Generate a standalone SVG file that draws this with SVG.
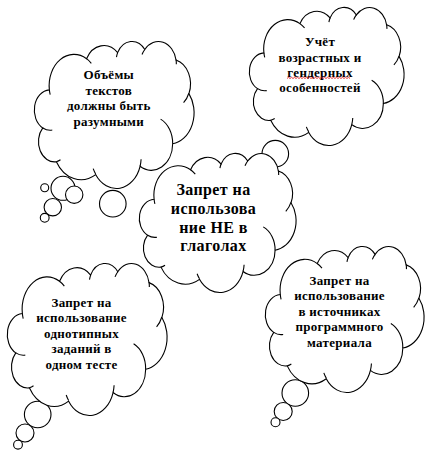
<svg xmlns="http://www.w3.org/2000/svg" xmlns:xlink="http://www.w3.org/1999/xlink" width="430" height="452" viewBox="0 0 430 452">
<style>
.c{fill:#fff;stroke:#000;stroke-width:1.1;vector-effect:non-scaling-stroke}
.i{fill:none;stroke:#000;stroke-width:1.1;vector-effect:non-scaling-stroke}
.b{fill:#fff;stroke:#000;stroke-width:1.1}
.t{font-family:"Liberation Serif","Times New Roman",serif;font-weight:bold;font-size:13px;fill:#000;text-anchor:middle;letter-spacing:0.3px}
.big{font-size:16px;letter-spacing:0.4px}
</style>
<defs>
<g id="cloud">
<path class="c" d="M9.03,33.26 A15.63,21.27 0 0 1 32.42,12.04 A12.34,16.82 0 0 1 51.98,7.94 A10.10,13.76 0 0 1 69.06,5.75 A11.24,15.27 0 0 1 88.70,12.92 A12.34,16.84 0 0 1 96.81,35.80 A15.68,21.34 0 0 1 86.59,69.92 A13.39,18.21 0 0 1 66.09,85.22 A15.63,21.33 0 0 1 38.14,90.89 A17.87,24.41 0 0 1 13.44,82.10 A10.09,13.70 0 0 1 4.89,59.14 A10.06,13.76 0 0 1 9.03,33.26 Z"/>
<path class="i" d="M10.86,60.59 A10.06,13.76 0 0 1 4.89,59.14 M16.04,80.78 A10.09,13.70 0 0 1 13.44,82.10 M38.14,90.49 A15.63,21.33 0 0 1 36.60,86.86 M66.73,80.44 A15.63,21.33 0 0 1 66.09,85.22 M79.00,53.13 A13.39,18.21 0 0 1 86.59,69.92 M96.75,35.54 A12.34,16.84 0 0 1 93.45,42.00 M88.71,12.56 A11.24,15.27 0 0 1 88.88,15.84 M67.31,9.15 A11.24,15.27 0 0 1 69.06,5.75 M51.25,10.93 A10.10,13.76 0 0 1 51.98,7.94 M32.41,12.02 A15.63,21.27 0 0 1 35.43,15.16 M9.55,36.55 A15.63,21.27 0 0 1 9.03,33.26"/>
</g>
</defs>
<g id="connectors">
<circle class="b" cx="63" cy="188.3" r="12"/>
<circle class="b" cx="74.2" cy="194.7" r="8.7"/>
<circle class="b" cx="44.7" cy="187.7" r="4"/>
<circle class="b" cx="52.8" cy="207.2" r="8.7"/>
<circle class="b" cx="44.7" cy="217.8" r="4.4"/>
<circle class="b" cx="112.8" cy="203.7" r="13.3"/>
<circle class="b" cx="275.3" cy="153.7" r="13.3"/>
<circle class="b" cx="37.7" cy="414.5" r="13.3"/>
<circle class="b" cx="25" cy="433" r="9"/>
<circle class="b" cx="18" cy="444.7" r="4.4"/>
<circle class="b" cx="295.3" cy="393" r="13.3"/>
<circle class="b" cx="283.2" cy="411.5" r="9"/>
<circle class="b" cx="275.5" cy="422.2" r="4.5"/>
</g>
<g id="n1">
<use xlink:href="#cloud" transform="translate(35,41) scale(1.59,1.47)"/>
<text class="t" x="108.8" y="79">Объёмы</text>
<text class="t" x="108.8" y="94.5">текстов</text>
<text class="t" x="108.8" y="110">должны быть</text>
<text class="t" x="108.8" y="125.5">разумными</text>
</g>
<g id="n2">
<use xlink:href="#cloud" transform="translate(250,7) scale(1.54,1.38)"/>
<text class="t" x="320" y="46">Учёт</text>
<text class="t" x="320" y="61.5">возрастных и</text>
<text class="t" x="320" y="76.5">гендерных</text>
<text class="t" x="320" y="91.5">особенностей</text>
<path d="M287,78.5 l1.5,-1.2 l1.5,1.2 l1.5,-1.2 l1.5,1.2 l1.5,-1.2 l1.5,1.2 l1.5,-1.2 l1.5,1.2 l1.5,-1.2 l1.5,1.2 l1.5,-1.2 l1.5,1.2 l1.5,-1.2 l1.5,1.2 l1.5,-1.2 l1.5,1.2 l1.5,-1.2 l1.5,1.2 l1.5,-1.2 l1.5,1.2 l1.5,-1.2 l1.5,1.2 l1.5,-1.2 l1.5,1.2 l1.5,-1.2 l1.5,1.2 l1.5,-1.2 l1.5,1.2 l1.5,-1.2 l1.5,1.2 l1.5,-1.2 l1.5,1.2 l1.5,-1.2 l1.5,1.2 l1.5,-1.2 l1.5,1.2 l1.5,-1.2 l1.5,1.2 l1.5,-1.2 l1.5,1.2 l1.5,-1.2 l1.5,1.2" fill="none" stroke="#e00000" stroke-width="0.8"/>
</g>
<g id="n3">
<use xlink:href="#cloud" transform="translate(140,153) scale(1.56,1.39)"/>
<text class="t big" x="213.5" y="195">Запрет на</text>
<text class="t big" x="213.5" y="213.5">использова</text>
<text class="t big" x="213.5" y="232.5">ние НЕ в</text>
<text class="t big" x="213.5" y="251">глаголах</text>
</g>
<g id="n4">
<use xlink:href="#cloud" transform="translate(8,263) scale(1.59,1.52)"/>
<text class="t" x="81.5" y="306.5">Запрет на</text>
<text class="t" x="81.5" y="322">использование</text>
<text class="t" x="81.5" y="337.5">однотипных</text>
<text class="t" x="81.5" y="353">заданий в</text>
<text class="t" x="81.5" y="368.5">одном тесте</text>
</g>
<g id="n5">
<use xlink:href="#cloud" transform="translate(266,246) scale(1.58,1.46)"/>
<text class="t" x="339.5" y="284.5">Запрет на</text>
<text class="t" x="339.5" y="300">использование</text>
<text class="t" x="339.5" y="315.5">в источниках</text>
<text class="t" x="339.5" y="331">программного</text>
<text class="t" x="339.5" y="346.5">материала</text>
</g>
</svg>
